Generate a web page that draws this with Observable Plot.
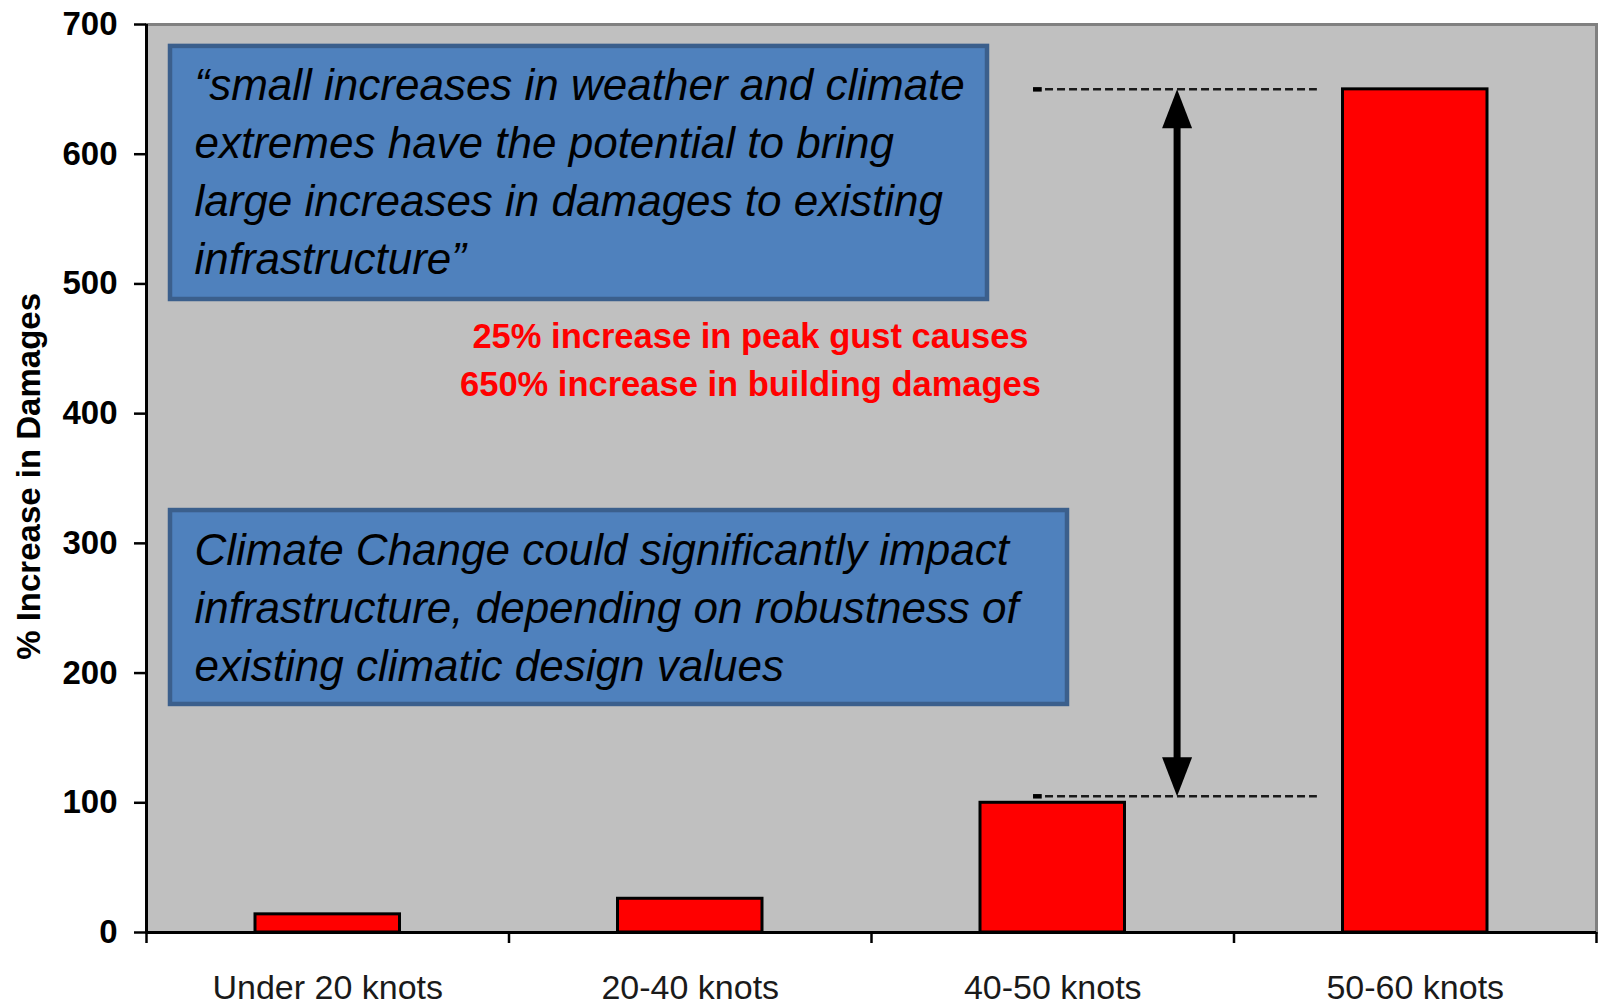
<!DOCTYPE html>
<html>
<head>
<meta charset="utf-8">
<script src="https://cdn.jsdelivr.net/npm/d3@7"></script>
<script src="https://cdn.jsdelivr.net/npm/@observablehq/plot@0.6"></script>
<style>
  html, body { margin: 0; padding: 0; background: #ffffff; }
  #chart { width: 1604px; height: 1004px; }
</style>
</head>
<body>
<div id="chart"></div>
<script>
// Wind-gust bands and the percentage increase in building damages for each
const categories = ["Under 20 knots", "20-40 knots", "40-50 knots", "50-60 knots"];
const damageIncrease = [14, 26, 100, 650];

// Value axis ticks
const yTicks = [0, 100, 200, 300, 400, 500, 600, 700];

// Levels bracketed by the double-headed arrow (40-50 knots vs 50-60 knots)
const gapLevels = [105, 650];

// Annotation texts
const quoteLines = [
  "\u201Csmall increases in weather and climate",
  "extremes have the potential to bring",
  "large increases in damages to existing",
  "infrastructure\u201D"
];
const noteLines = [
  "Climate Change could significantly impact",
  "infrastructure, depending on robustness of",
  "existing climatic design values"
];
const calloutLines = [
  "25% increase in peak gust causes",
  "650% increase in building damages"
];
const yLabel = "% Increase in Damages";

const bars = categories.map((category, index) => ({category, index, value: damageIncrease[index]}));

const SANS = "'Liberation Sans', Arial, Helvetica, sans-serif";

// Filled arrowheads: tip at the origin
const headUp = {draw(ctx) { ctx.moveTo(0, 0); ctx.lineTo(15, 39); ctx.lineTo(-15, 39); ctx.closePath(); }};
const headDown = {draw(ctx) { ctx.moveTo(0, 0); ctx.lineTo(15, -39); ctx.lineTo(-15, -39); ctx.closePath(); }};

const arrowX = 2.843;
const dashX1 = 2.447, dashX2 = 3.23;

const chart = Plot.plot({
  width: 1604,
  height: 1004,
  marginTop: 24,
  marginBottom: 72,
  marginLeft: 146,
  marginRight: 8,
  style: {fontFamily: SANS, background: "#ffffff", color: "#000000", overflow: "visible"},
  x: {type: "linear", domain: [0, categories.length]},
  y: {domain: [0, 700]},
  marks: [
    // grey plot area
    Plot.frame({fill: "#C0C0C0"}),
    Plot.frame({stroke: "#808080", strokeWidth: 3}),

    // bars
    Plot.rectY(bars, {
      x1: "index", x2: d => d.index + 1, y: "value",
      insetLeft: 109, insetRight: 109,
      fill: "#FF0000", stroke: "#000000", strokeWidth: 3
    }),

    // quote box
    Plot.rect([quoteLines], {
      x1: 0.0662, x2: 2.32, y1: 488, y2: 683.1,
      fill: "#4F81BD", stroke: "#3B5F8C", strokeWidth: 4.5
    }),
    Plot.text([quoteLines.join("\n")], {
      x: 0.1324, y: 673.2, text: d => d,
      textAnchor: "start", lineAnchor: "top", lineHeight: 1.318,
      fontSize: 44, fontStyle: "italic", fill: "#000000"
    }),

    // note box
    Plot.rect([noteLines], {
      x1: 0.0662, x2: 2.5407, y1: 175.8, y2: 325.3,
      fill: "#4F81BD", stroke: "#3B5F8C", strokeWidth: 4.5
    }),
    Plot.text([noteLines.join("\n")], {
      x: 0.1324, y: 315.1, text: d => d,
      textAnchor: "start", lineAnchor: "top", lineHeight: 1.318,
      fontSize: 44, fontStyle: "italic", fill: "#000000"
    }),

    // red callout
    Plot.text([calloutLines.join("\n")], {
      x: 1.6662, y: 477.2, text: d => d,
      textAnchor: "middle", lineAnchor: "top", lineHeight: 1.39,
      fontSize: 34.5, fontWeight: "bold", fill: "#FF0000"
    }),

    // dashed reference levels
    Plot.ruleY(gapLevels, {x1: dashX1, x2: dashX2, stroke: "#1a1a1a", strokeWidth: 2.5, strokeDasharray: "8,4"}),
    Plot.ruleY(gapLevels, {x1: dashX1, x2: dashX1 + 0.024, stroke: "#000000", strokeWidth: 4.5}),

    // double-headed arrow
    Plot.ruleX([arrowX], {y1: gapLevels[1], y2: gapLevels[0], insetTop: 30, insetBottom: 30, stroke: "#000000", strokeWidth: 7}),
    Plot.dot([gapLevels[1]], {x: arrowX, y: d => d, symbol: headUp, fill: "#000000", stroke: "none"}),
    Plot.dot([gapLevels[0]], {x: arrowX, y: d => d, symbol: headDown, fill: "#000000", stroke: "none"}),

    // axes
    Plot.axisY(yTicks, {
      tickSize: 12, tickPadding: 17, strokeWidth: 2.5,
      fontSize: 33, fontWeight: "bold", fill: "#000000", label: null
    }),
    Plot.axisX(d3.range(0, categories.length + 1), {
      tickSize: 11, strokeWidth: 2.5, tickFormat: () => "", label: null
    }),
    Plot.axisX(categories.map((d, i) => i + 0.5), {
      tickSize: 0, tickPadding: 42, tickFormat: d => categories[Math.floor(d)],
      fontSize: 34, fill: "#1a1a1a", label: null
    }),
    Plot.ruleX([0], {stroke: "#000000", strokeWidth: 3}),
    Plot.ruleY([0], {stroke: "#000000", strokeWidth: 3}),

    // y-axis title
    Plot.text([yLabel], {
      x: -0.3228, y: 351.6, text: d => d, rotate: -90,
      fontSize: 33, fontWeight: "bold", fill: "#000000"
    })
  ]
});

document.getElementById("chart").appendChild(chart);
</script>
</body>
</html>
